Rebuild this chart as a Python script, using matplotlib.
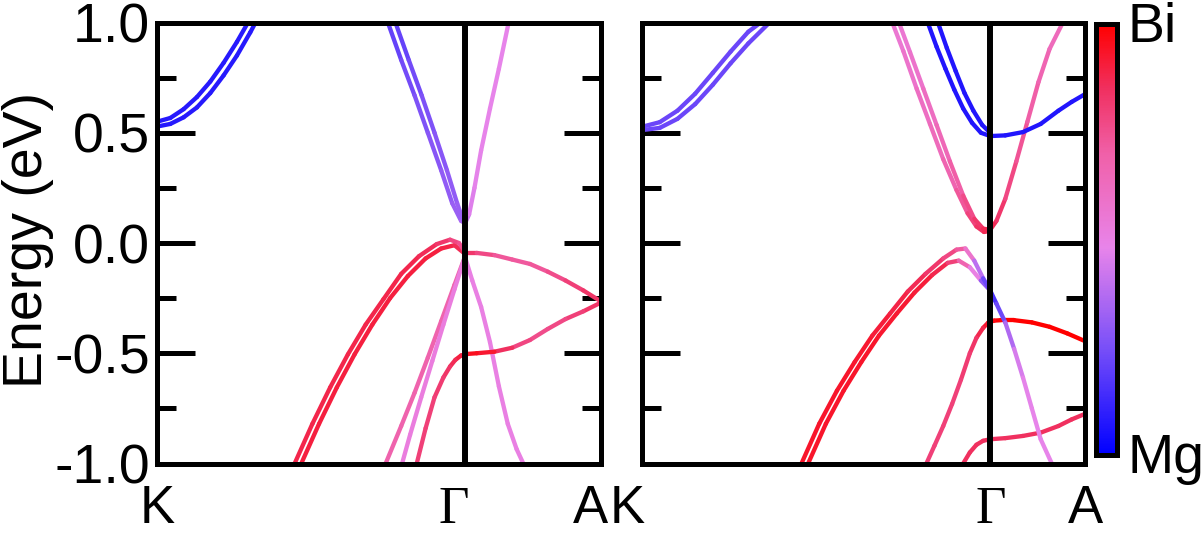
import numpy as np
import matplotlib
matplotlib.use("Agg")
import matplotlib.pyplot as plt
from matplotlib.collections import LineCollection
from matplotlib.colors import LinearSegmentedColormap, Normalize
from matplotlib.cm import ScalarMappable

plt.rcParams['font.family'] = ['Liberation Sans', 'DejaVu Sans']

# path K - Gamma - A, k as fraction of the path length
gamma_left = 0.694
gamma_right = 0.786
e_ticks = [-1.0, -0.5, 0.0, 0.5, 1.0]
e_tick_labels = ['-1.0', '-0.5', '0.0', '0.5', '1.0']
e_minor = [-0.75, -0.25, 0.25, 0.75]

########################################################################
# left panel bands (k, energy in eV, Bi weight 0=Mg 1=Bi)
p1_kband_a_k = [0.0, 0.03, 0.06, 0.09, 0.12, 0.15, 0.18, 0.205]
p1_kband_a_e = [0.55, 0.567, 0.607, 0.662, 0.732, 0.817, 0.912, 1.0]
p1_kband_b_k = [0.0, 0.03, 0.06, 0.09, 0.12, 0.15, 0.18, 0.21, 0.222]
p1_kband_b_e = [0.528, 0.54, 0.57, 0.615, 0.68, 0.76, 0.85, 0.955, 1.0]
p1_kband_w = 0.08

p1_cb_k = [0.52, 0.55, 0.58, 0.61, 0.64, 0.665, 0.685, 0.694, 0.703, 0.715, 0.73, 0.75, 0.77, 0.792]
p1_cb_e = [1.0, 0.83, 0.67, 0.50, 0.33, 0.18, 0.10, 0.09, 0.13, 0.25, 0.42, 0.61, 0.79, 1.0]
p1_cb_w = [0.20, 0.22, 0.25, 0.27, 0.29, 0.31, 0.33, 0.38, 0.45, 0.47, 0.48, 0.48, 0.48, 0.48]
p1_cb2_k = [0.537, 0.567, 0.596, 0.625, 0.653, 0.676, 0.69]
p1_cb2_e = [1.0, 0.83, 0.67, 0.50, 0.33, 0.18, 0.10]
p1_cb2_w = [0.20, 0.22, 0.25, 0.27, 0.29, 0.31, 0.33]

p1_vb_a_k = [0.31, 0.35, 0.39, 0.43, 0.47, 0.51, 0.55, 0.59, 0.63, 0.66, 0.68, 0.694]
p1_vb_a_e = [-1.0, -0.82, -0.655, -0.505, -0.37, -0.255, -0.14, -0.06, -0.005, 0.015, 0.0, -0.04]
p1_vb_a_w = [0.88, 0.88, 0.88, 0.88, 0.88, 0.88, 0.88, 0.87, 0.85, 0.80, 0.76, 0.74]
p1_vb_b_k = [0.325, 0.365, 0.405, 0.445, 0.485, 0.525, 0.565, 0.605, 0.64, 0.67, 0.694]
p1_vb_b_e = [-1.0, -0.82, -0.655, -0.505, -0.37, -0.25, -0.15, -0.07, -0.025, -0.01, -0.05]
p1_vb_b_w = [0.90, 0.90, 0.90, 0.90, 0.90, 0.90, 0.90, 0.90, 0.90, 0.88, 0.85]

p1_d_k = [0.694, 0.72, 0.76, 0.80, 0.84, 0.88, 0.92, 0.96, 1.0]
p1_d_e = [-0.045, -0.045, -0.055, -0.075, -0.095, -0.13, -0.17, -0.215, -0.265]
p1_d_w = [0.85, 0.80, 0.74, 0.72, 0.72, 0.74, 0.78, 0.82, 0.85]

p1_e_k = [1.0, 0.96, 0.92, 0.88, 0.84, 0.80, 0.76, 0.72, 0.70, 0.685, 0.672, 0.66, 0.645, 0.625, 0.605, 0.585]
p1_e_e = [-0.27, -0.31, -0.345, -0.39, -0.44, -0.475, -0.493, -0.5, -0.503, -0.51, -0.53, -0.56, -0.61, -0.70, -0.84, -1.0]
p1_e_w = [0.85, 0.82, 0.78, 0.76, 0.76, 0.80, 0.90, 0.95, 0.95, 0.92, 0.88, 0.85, 0.82, 0.80, 0.80, 0.80]

p1_f1_k = [0.694, 0.67, 0.64, 0.61, 0.58, 0.55, 0.515]
p1_f1_e = [-0.06, -0.19, -0.355, -0.52, -0.68, -0.83, -1.0]
p1_f1_w = 0.68
p1_f2_k = [0.694, 0.67, 0.645, 0.62, 0.595, 0.57, 0.552]
p1_f2_e = [-0.06, -0.21, -0.37, -0.535, -0.70, -0.87, -1.0]
p1_f2_w = 0.52

p1_g_k = [0.694, 0.71, 0.73, 0.75, 0.77, 0.79, 0.81, 0.825]
p1_g_e = [-0.065, -0.17, -0.29, -0.45, -0.65, -0.82, -0.935, -1.0]
p1_g_w = 0.50

########################################################################
# right panel bands
p2_kband_a_k = [0.0, 0.04, 0.08, 0.12, 0.16, 0.20, 0.24, 0.268]
p2_kband_a_e = [0.527, 0.548, 0.6, 0.677, 0.772, 0.868, 0.958, 1.0]
p2_kband_b_k = [0.0, 0.04, 0.08, 0.12, 0.16, 0.20, 0.24, 0.288]
p2_kband_b_e = [0.512, 0.522, 0.563, 0.63, 0.718, 0.815, 0.905, 1.0]
p2_kband_w = 0.22

p2_b_a_k = [0.645, 0.665, 0.685, 0.705, 0.725, 0.745, 0.765, 0.786]
p2_b_a_e = [1.0, 0.89, 0.79, 0.695, 0.61, 0.545, 0.50, 0.485]
p2_b_b_k = [0.668, 0.688, 0.708, 0.728, 0.748, 0.768, 0.786]
p2_b_b_e = [1.0, 0.885, 0.78, 0.68, 0.60, 0.535, 0.50]
p2_b_r_k = [0.786, 0.82, 0.86, 0.90, 0.94, 0.97, 1.0]
p2_b_r_e = [0.485, 0.488, 0.503, 0.54, 0.60, 0.64, 0.675]
p2_b_w = 0.07

p2_c_a_k = [0.565, 0.59, 0.62, 0.65, 0.68, 0.71, 0.735, 0.755, 0.772, 0.786]
p2_c_a_e = [1.0, 0.87, 0.70, 0.54, 0.38, 0.24, 0.135, 0.075, 0.05, 0.055]
p2_c_a_w = [0.55, 0.57, 0.60, 0.62, 0.65, 0.70, 0.76, 0.82, 0.86, 0.88]
p2_c_b_k = [0.58, 0.605, 0.635, 0.665, 0.695, 0.725, 0.75, 0.77, 0.786]
p2_c_b_e = [1.0, 0.865, 0.70, 0.535, 0.37, 0.215, 0.11, 0.065, 0.06]
p2_c_b_w = [0.55, 0.57, 0.60, 0.63, 0.67, 0.73, 0.80, 0.85, 0.88]
p2_c_r_k = [0.786, 0.80, 0.82, 0.845, 0.87, 0.895, 0.92, 0.95]
p2_c_r_e = [0.06, 0.10, 0.20, 0.37, 0.55, 0.73, 0.88, 1.0]
p2_c_r_w = [0.88, 0.85, 0.80, 0.75, 0.72, 0.68, 0.65, 0.62]

p2_d_a_k = [0.36, 0.40, 0.44, 0.48, 0.52, 0.56, 0.60, 0.64, 0.68, 0.71, 0.73, 0.75, 0.77,
            0.786, 0.80, 0.82, 0.84, 0.86, 0.88, 0.90, 0.925]
p2_d_a_e = [-1.0, -0.82, -0.67, -0.54, -0.42, -0.32, -0.22, -0.14, -0.07, -0.03, -0.025, -0.08, -0.16,
            -0.215, -0.275, -0.36, -0.48, -0.61, -0.75, -0.89, -1.0]
p2_d_a_w = [0.93, 0.93, 0.93, 0.93, 0.92, 0.90, 0.88, 0.85, 0.80, 0.75, 0.68, 0.48, 0.30,
            0.15, 0.15, 0.30, 0.42, 0.47, 0.48, 0.48, 0.48]
p2_d_b_k = [0.375, 0.415, 0.455, 0.495, 0.535, 0.575, 0.615, 0.655, 0.69, 0.715, 0.74, 0.765, 0.786]
p2_d_b_e = [-1.0, -0.82, -0.67, -0.54, -0.42, -0.32, -0.225, -0.145, -0.09, -0.08, -0.11, -0.17, -0.215]
p2_d_b_w = [0.93, 0.93, 0.93, 0.93, 0.93, 0.92, 0.92, 0.90, 0.85, 0.75, 0.60, 0.40, 0.20]

p2_e_k = [1.0, 0.96, 0.92, 0.88, 0.84, 0.81, 0.795, 0.782, 0.77, 0.755, 0.74, 0.72, 0.70, 0.68, 0.66, 0.642]
p2_e_e = [-0.445, -0.41, -0.38, -0.36, -0.35, -0.35, -0.352, -0.36, -0.385, -0.43, -0.50, -0.62, -0.73, -0.83, -0.92, -1.0]
p2_e_w = [1.0, 1.0, 1.0, 1.0, 1.0, 1.0, 0.98, 0.95, 0.90, 0.85, 0.82, 0.80, 0.80, 0.80, 0.80, 0.80]

p2_f_k = [0.725, 0.74, 0.755, 0.77, 0.786, 0.82, 0.86, 0.90, 0.94, 0.97, 1.0]
p2_f_e = [-1.0, -0.95, -0.915, -0.897, -0.89, -0.885, -0.875, -0.86, -0.83, -0.80, -0.775]
p2_f_w = 0.85

########################################################################
cmap = LinearSegmentedColormap.from_list(
    'mgbi', [(0.0, '#0000ff'), (0.25, '#7a50f8'), (0.48, '#e884ea'),
             (0.70, '#f060a8'), (0.85, '#f03060'), (1.0, '#ff0000')])
norm = Normalize(0, 1)


def draw_band(ax, k, e, w):
    pts = np.column_stack([k, e])
    segs = np.stack([pts[:-1], pts[1:]], axis=1)
    if np.isscalar(w):
        wm = np.full(len(segs), w)
    else:
        w = np.asarray(w)
        wm = 0.5 * (w[:-1] + w[1:])
    lc = LineCollection(segs, cmap=cmap, norm=norm, linewidths=3.1,
                        capstyle='round', joinstyle='round', zorder=2)
    lc.set_array(wm)
    ax.add_collection(lc)


def setup_axes(ax, gamma, show_labels, label_pos):
    ax.set_xlim(0, 1)
    ax.set_ylim(-1, 1)
    for s in ax.spines.values():
        s.set_linewidth(3.6)
        s.set_zorder(5)
    ax.axvline(gamma, color='black', lw=4.3, zorder=4)
    ax.set_xticks([])
    ax.set_yticks(e_ticks)
    ax.set_yticks(e_minor, minor=True)
    if show_labels:
        ax.set_yticklabels(e_tick_labels)
    else:
        ax.set_yticklabels([])
    ax.tick_params(axis='y', which='major', direction='in', length=27, width=3.6,
                   left=True, right=True, labelsize=40, pad=5)
    ax.tick_params(axis='y', which='minor', direction='in', length=14, width=3.6,
                   left=True, right=True)
    fams = [['Liberation Sans'], ['Liberation Serif'], ['Liberation Sans']]
    for lab, x, fam in zip(['K', 'Γ', 'A'], label_pos, fams):
        fig.text(x, 1 - 523 / H, lab, ha='center', va='baseline',
                 fontsize=38, family=fam)


fig = plt.figure(figsize=(12.03, 5.34), dpi=100)
W, H = 1203, 534
ax1 = fig.add_axes([157 / W, (H - 463.5) / H, 444 / W, 441 / H])
ax2 = fig.add_axes([642 / W, (H - 463.5) / H, 443 / W, 441 / H])

draw_band(ax1, p1_kband_a_k, p1_kband_a_e, p1_kband_w)
draw_band(ax1, p1_kband_b_k, p1_kband_b_e, p1_kband_w)
draw_band(ax1, p1_cb_k, p1_cb_e, p1_cb_w)
draw_band(ax1, p1_cb2_k, p1_cb2_e, p1_cb2_w)
draw_band(ax1, p1_f1_k, p1_f1_e, p1_f1_w)
draw_band(ax1, p1_f2_k, p1_f2_e, p1_f2_w)
draw_band(ax1, p1_g_k, p1_g_e, p1_g_w)
draw_band(ax1, p1_e_k, p1_e_e, p1_e_w)
draw_band(ax1, p1_d_k, p1_d_e, p1_d_w)
draw_band(ax1, p1_vb_b_k, p1_vb_b_e, p1_vb_b_w)
draw_band(ax1, p1_vb_a_k, p1_vb_a_e, p1_vb_a_w)

draw_band(ax2, p2_kband_a_k, p2_kband_a_e, p2_kband_w)
draw_band(ax2, p2_kband_b_k, p2_kband_b_e, p2_kband_w)
draw_band(ax2, p2_c_a_k, p2_c_a_e, p2_c_a_w)
draw_band(ax2, p2_c_b_k, p2_c_b_e, p2_c_b_w)
draw_band(ax2, p2_c_r_k, p2_c_r_e, p2_c_r_w)
draw_band(ax2, p2_b_a_k, p2_b_a_e, p2_b_w)
draw_band(ax2, p2_b_b_k, p2_b_b_e, p2_b_w)
draw_band(ax2, p2_b_r_k, p2_b_r_e, p2_b_w)
draw_band(ax2, p2_f_k, p2_f_e, p2_f_w)
draw_band(ax2, p2_e_k, p2_e_e, p2_e_w)
draw_band(ax2, p2_d_b_k, p2_d_b_e, p2_d_b_w)
draw_band(ax2, p2_d_a_k, p2_d_a_e, p2_d_a_w)

# high-symmetry labels, figure x positions
setup_axes(ax1, gamma_left, True, [157 / W, 454 / W, 590 / W])
setup_axes(ax2, gamma_right, False, [627 / W, 991 / W, 1085 / W])

fig.text(2 / W, 1 - 240 / H, 'Energy (eV)', rotation=90, ha='left', va='center', fontsize=40)

# colour bar Mg -> Bi
cax = fig.add_axes([1095.5 / W, (H - 454.5) / H, 21 / W, 430.5 / H])
cb = fig.colorbar(ScalarMappable(norm=norm, cmap=cmap), cax=cax)
cb.set_ticks([])
cb.outline.set_linewidth(3.6)
fig.text(1128 / W, 1 - 42 / H, 'Bi', ha='left', va='baseline', fontsize=40)
fig.text(1128 / W, 1 - 473 / H, 'Mg', ha='left', va='baseline', fontsize=40)

fig.savefig('out.png', dpi=100)
